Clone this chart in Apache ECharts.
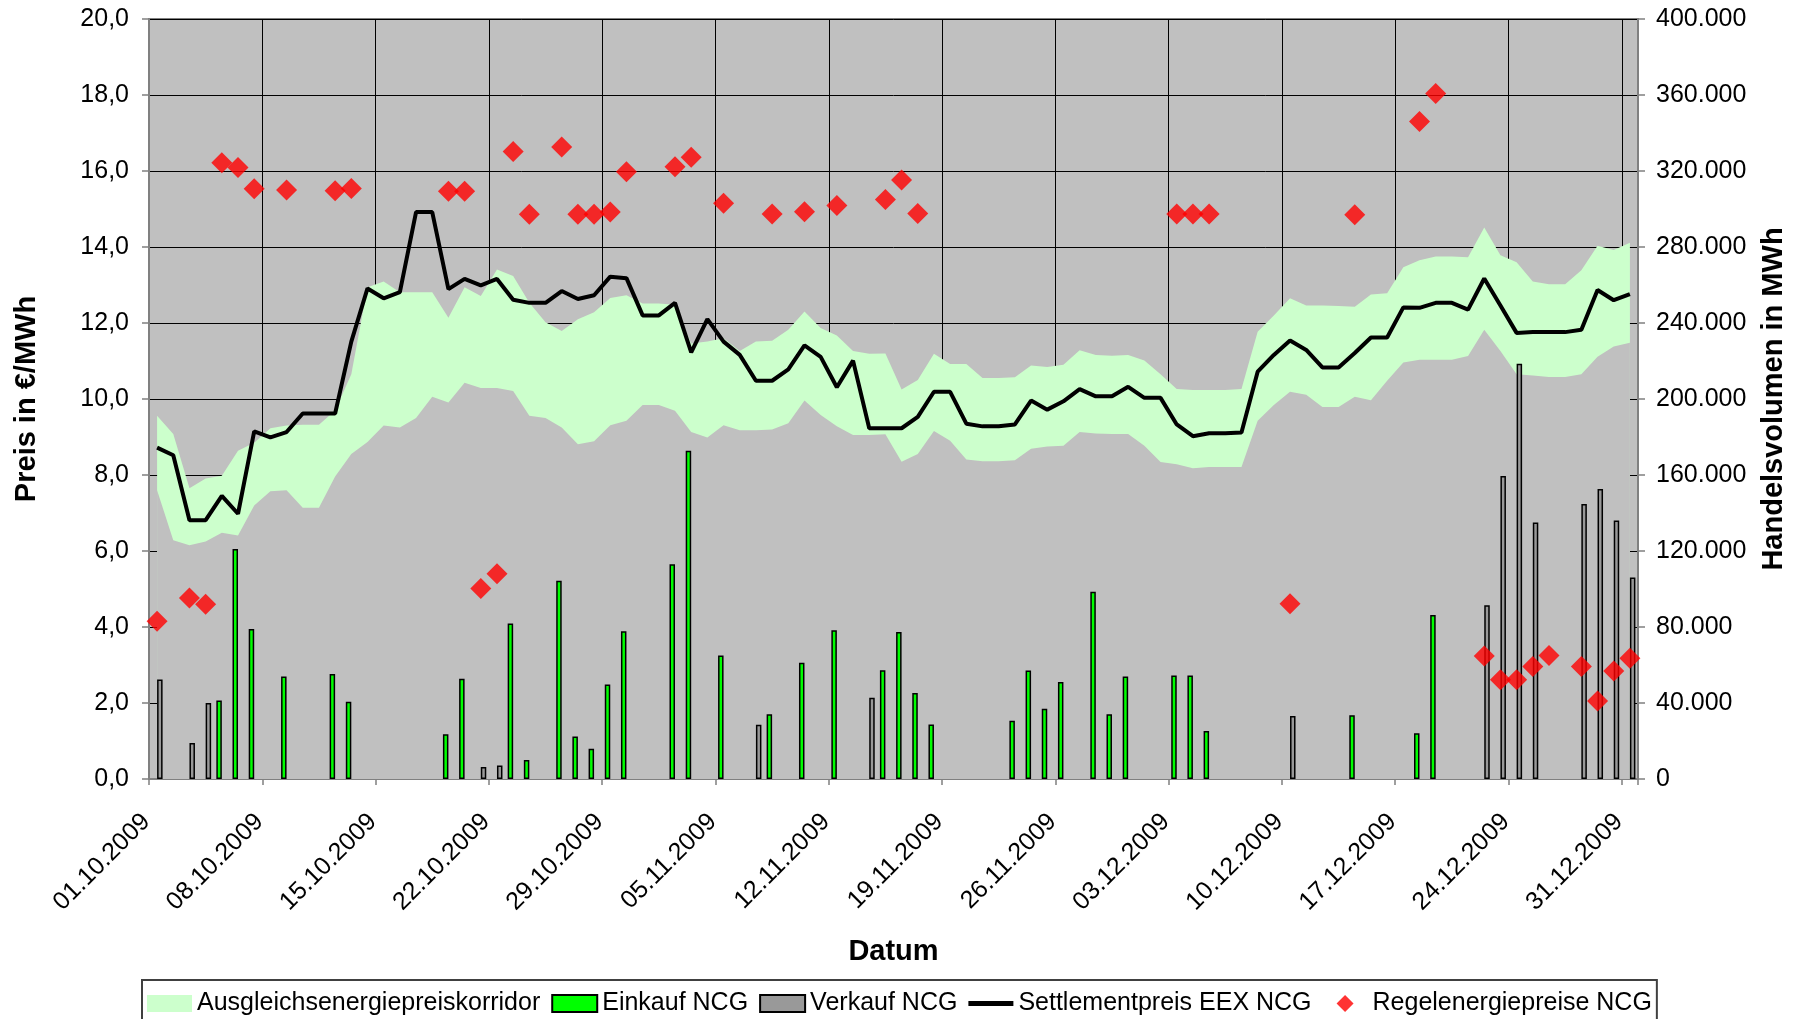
<!DOCTYPE html>
<html>
<head>
<meta charset="utf-8">
<title>NCG Preise und Handelsvolumen</title>
<script src="https://cdn.jsdelivr.net/npm/echarts@6/dist/echarts.min.js"></script>
<style>
  html, body { margin: 0; padding: 0; background: #fff; }
  #chart { width: 1806px; height: 1019px; }
</style>
</head>
<body>
<div id="chart"></div>
<script>
// Tageswerte 01.10.2009 - 31.12.2009 (92 Tage), Index 0 = 01.10.2009
const weekLabels = ['01.10.2009', '08.10.2009', '15.10.2009', '22.10.2009', '29.10.2009',
  '05.11.2009', '12.11.2009', '19.11.2009', '26.11.2009', '03.12.2009',
  '10.12.2009', '17.12.2009', '24.12.2009', '31.12.2009'];

// Settlementpreis EEX NCG in €/MWh
const settlement = [
  8.72, 8.52, 6.81, 6.81, 7.45, 6.98, 9.15, 8.99, 9.13, 9.62,
  9.62, 9.62, 11.51, 12.91, 12.65, 12.81, 14.92, 14.92, 12.89, 13.16,
  12.99, 13.16, 12.61, 12.53, 12.53, 12.84, 12.63, 12.73, 13.22, 13.18,
  12.20, 12.20, 12.53, 11.23, 12.10, 11.51, 11.16, 10.48, 10.48, 10.78,
  11.41, 11.11, 10.31, 11.01, 9.23, 9.23, 9.23, 9.53, 10.19, 10.19,
  9.35, 9.28, 9.28, 9.33, 9.96, 9.72, 9.94, 10.26, 10.07, 10.07,
  10.32, 10.03, 10.03, 9.33, 9.02, 9.10, 9.10, 9.12, 10.72, 11.16,
  11.54, 11.29, 10.83, 10.83, 11.21, 11.62, 11.62, 12.41, 12.40, 12.53,
  12.53, 12.35, 13.17, 12.46, 11.74, 11.76, 11.76, 11.76, 11.82, 12.87,
  12.60, 12.76
];

// Ausgleichsenergiepreiskorridor: Ober- und Untergrenze
const corridorHigh = [
  9.56, 9.08, 7.65, 7.91, 7.98, 8.64, 8.85, 9.23, 9.30, 9.32,
  9.32, 9.70, 10.65, 12.94, 13.09, 12.81, 12.81, 12.81, 12.14, 12.94,
  12.71, 13.41, 13.24, 12.53, 12.02, 11.79, 12.10, 12.28, 12.66, 12.73,
  12.51, 12.51, 12.48, 11.46, 11.51, 11.60, 11.26, 11.51, 11.53, 11.82,
  12.30, 11.87, 11.67, 11.26, 11.19, 11.20, 10.25, 10.50, 11.19, 10.92,
  10.92, 10.55, 10.55, 10.57, 10.88, 10.84, 10.90, 11.28, 11.16, 11.14,
  11.16, 11.01, 10.65, 10.26, 10.24, 10.24, 10.24, 10.26, 11.77, 12.20,
  12.65, 12.46, 12.46, 12.45, 12.43, 12.75, 12.78, 13.47, 13.65, 13.75,
  13.75, 13.73, 14.51, 13.78, 13.60, 13.09, 13.02, 13.02, 13.39, 14.03,
  13.92, 14.11
];
const corridorLow = [
  7.60, 6.28, 6.15, 6.25, 6.48, 6.41, 7.20, 7.57, 7.60, 7.14,
  7.14, 7.96, 8.55, 8.87, 9.30, 9.25, 9.50, 10.06, 9.91, 10.43,
  10.29, 10.29, 10.21, 9.56, 9.50, 9.25, 8.81, 8.89, 9.31, 9.43,
  9.84, 9.84, 9.69, 9.13, 8.99, 9.31, 9.18, 9.18, 9.20, 9.36,
  9.96, 9.58, 9.28, 9.05, 9.05, 9.07, 8.35, 8.55, 9.16, 8.90,
  8.41, 8.36, 8.36, 8.39, 8.69, 8.75, 8.77, 9.13, 9.09, 9.08,
  9.08, 8.77, 8.34, 8.28, 8.18, 8.21, 8.21, 8.21, 9.43, 9.84,
  10.19, 10.11, 9.79, 9.79, 10.06, 9.97, 10.48, 10.96, 11.03, 11.03,
  11.03, 11.13, 11.82, 11.26, 10.65, 10.62, 10.58, 10.58, 10.65, 11.11,
  11.38, 11.48
];

// Handelsvolumen in MWh (0 = kein Handel)
const einkauf = [
  0, 0, 0, 0, 41300, 121100, 78900, 0, 53900, 0,
  0, 55300, 40600, 0, 0, 0, 0, 0, 23600, 52800,
  0, 0, 81900, 10000, 0, 104300, 22400, 15900, 49800, 77800,
  0, 0, 113000, 172800, 0, 65000, 0, 0, 34100, 0,
  61200, 0, 78300, 0, 0, 57200, 77400, 45300, 28700, 0,
  0, 0, 0, 30700, 57100, 37000, 51000, 0, 98600, 34100,
  54000, 0, 0, 54500, 54500, 25300, 0, 0, 0, 0,
  0, 0, 0, 0, 33600, 0, 0, 0, 24100, 86300,
  0, 0, 0, 0, 0, 0, 0, 0, 0, 0,
  0, 0
];
const verkauf = [
  52400, 0, 18900, 40000, 0, 0, 0, 0, 0, 0,
  0, 0, 0, 0, 0, 0, 0, 0, 0, 0,
  6300, 7100, 0, 0, 0, 0, 0, 0, 0, 0,
  0, 0, 0, 0, 0, 0, 0, 28500, 0, 0,
  0, 0, 0, 0, 42700, 0, 0, 0, 0, 0,
  0, 0, 0, 0, 0, 0, 0, 0, 0, 0,
  0, 0, 0, 0, 0, 0, 0, 0, 0, 0,
  33100, 0, 0, 0, 0, 0, 0, 0, 0, 0,
  0, 0, 91500, 159500, 218500, 135000, 0, 0, 144800, 152600,
  136100, 106100
];

// Regelenergiepreise NCG in €/MWh (null = kein Wert)
const regelenergie = [
  4.15, null, 4.76, 4.60, 16.22, 16.09, 15.53, null, 15.50, null,
  null, 15.48, 15.54, null, null, null, null, null, 15.47, 15.47,
  5.01, 5.40, 16.51, 14.86, null, 16.63, 14.86, 14.86, 14.92, 15.98,
  null, null, 16.11, 16.36, null, 15.15, null, null, 14.87, null,
  14.93, null, 15.09, null, null, 15.25, 15.76, 14.88, null, null,
  null, null, null, null, null, null, null, null, null, null,
  null, null, null, 14.87, 14.87, 14.87, null, null, null, null,
  4.61, null, null, null, 14.85, null, null, null, 17.30, 18.04,
  null, null, 3.24, 2.61, 2.61, 2.96, 3.25, null, 2.96, 2.05,
  2.84, 3.18
];

// Tag i liegt in der Mitte seines Tagesfeldes
function toPoints(arr, skipZero) {
  const out = [];
  arr.forEach(function (v, i) {
    if (v === null || (skipZero && v === 0)) return;
    out.push([i + 0.5, v]);
  });
  return out;
}

function fmtPreis(v) {
  return v.toFixed(1).replace('.', ',');
}
function fmtMenge(v) {
  return String(v).replace(/\B(?=(\d{3})+(?!\d))/g, '.');
}
function fmtDatum(v) {
  const k = Math.round(v / 7);
  return v < 92 && weekLabels[k] ? weekLabels[k] : '';
}

const axisGray = '#808080';
const font = 'Liberation Sans, Arial, sans-serif';

const chart = echarts.init(document.getElementById('chart'));
chart.setOption({
  animation: false,
  backgroundColor: '#ffffff',
  textStyle: { fontFamily: font, color: '#000' },
  grid: {
    left: 149, right: 168, top: 19, bottom: 240,
    show: true, backgroundColor: '#C0C0C0', borderColor: axisGray, borderWidth: 2
  },
  legend: {
    left: 142, top: 980,
    padding: [11, 5, 40, 5],
    itemGap: 11, itemWidth: 45, itemHeight: 17,
    symbolKeepAspect: false,
    borderColor: '#404040', borderWidth: 2,
    selectedMode: false,
    textStyle: { fontSize: 25, color: '#000', fontFamily: font },
    data: [
      { name: 'Ausgleichsenergiepreiskorridor', icon: 'rect' },
      { name: 'Einkauf NCG', icon: 'rect' },
      { name: 'Verkauf NCG', icon: 'rect' },
      { name: 'Settlementpreis EEX NCG', icon: 'path://M0,0M45,17M0,6H45V11H0Z' },
      { name: 'Regelenergiepreise NCG', icon: 'path://M0,0M45,17M22.5,0L31,8.5L22.5,17L14,8.5Z' }
    ]
  },
  xAxis: {
    type: 'value', min: 0, max: 92, interval: 7,
    name: 'Datum', nameLocation: 'middle', nameGap: 158,
    nameTextStyle: { fontSize: 29, fontWeight: 'bold', color: '#000' },
    axisLine: { show: true, lineStyle: { color: axisGray, width: 2 } },
    axisTick: { show: true, length: 6, lineStyle: { color: axisGray, width: 1.5 } },
    splitLine: { show: true, lineStyle: { color: '#000', width: 1 } },
    axisLabel: {
      rotate: 45, fontSize: 25, color: '#000', margin: 36,
      padding: [0, 4, 8, 0],
      formatter: fmtDatum
    }
  },
  yAxis: [
    {
      type: 'value', min: 0, max: 20, interval: 2, position: 'left',
      name: 'Preis in €/MWh', nameLocation: 'middle', nameGap: 108, nameRotate: 90,
      nameTextStyle: { fontSize: 29, fontWeight: 'bold', color: '#000' },
      axisLine: { show: true, lineStyle: { color: axisGray, width: 2 } },
      axisTick: { show: true, length: 7, lineStyle: { color: axisGray, width: 1.5 } },
      splitLine: { show: true, lineStyle: { color: '#000', width: 1 } },
      axisLabel: { fontSize: 25, color: '#000', margin: 20, formatter: fmtPreis }
    },
    {
      type: 'value', min: 0, max: 400000, interval: 40000, position: 'right',
      name: 'Handelsvolumen in MWh', nameLocation: 'middle', nameGap: 121, nameRotate: 90,
      nameTextStyle: { fontSize: 29, fontWeight: 'bold', color: '#000' },
      axisLine: { show: true, lineStyle: { color: axisGray, width: 2 } },
      axisTick: { show: true, length: 7, lineStyle: { color: axisGray, width: 1.5 } },
      splitLine: { show: false },
      axisLabel: { fontSize: 25, color: '#000', margin: 18, formatter: fmtMenge }
    }
  ],
  series: [
    {
      // Obergrenze bis zur Achse gefuellt, die Untergrenze deckt den Rest grau ab
      name: 'Ausgleichsenergiepreiskorridor', type: 'line', z: 1,
      data: toPoints(corridorHigh), symbol: 'none', color: '#CCFFCC',
      lineStyle: { width: 0, opacity: 0 },
      areaStyle: { color: '#CCFFCC', opacity: 1 }
    },
    {
      name: 'Korridor unten', type: 'line', z: 1,
      data: toPoints(corridorLow), symbol: 'none', color: '#C0C0C0',
      lineStyle: { width: 0, opacity: 0 },
      areaStyle: { color: '#C0C0C0', opacity: 1 }
    },
    {
      name: 'Einkauf NCG', type: 'bar', yAxisIndex: 1, z: 2,
      data: toPoints(einkauf, true), barWidth: 5.5, barGap: '0%',
      itemStyle: { color: '#00FF00', borderColor: '#000', borderWidth: 1.5 }
    },
    {
      name: 'Verkauf NCG', type: 'bar', yAxisIndex: 1, z: 2,
      data: toPoints(verkauf, true), barWidth: 5.5, barGap: '0%',
      itemStyle: { color: '#999999', borderColor: '#000', borderWidth: 1.5 }
    },
    {
      name: 'Settlementpreis EEX NCG', type: 'line', z: 3,
      data: toPoints(settlement), symbol: 'none', color: '#000',
      lineStyle: { color: '#000', width: 4 }
    },
    {
      name: 'Regelenergiepreise NCG', type: 'scatter', z: 4,
      data: toPoints(regelenergie), symbol: 'diamond', symbolSize: 21,
      itemStyle: { color: '#FF0000' }
    }
  ]
});
</script>
</body>
</html>
